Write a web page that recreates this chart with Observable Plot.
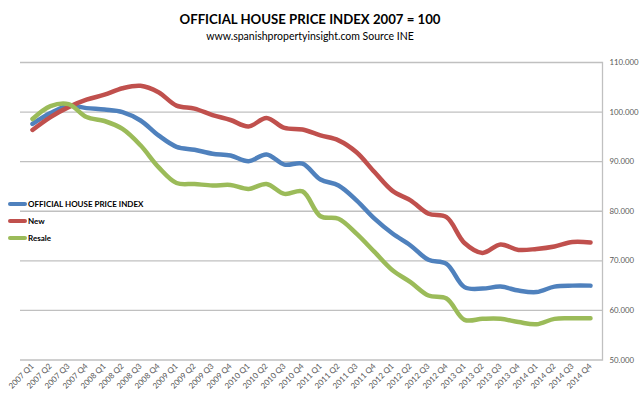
<!DOCTYPE html>
<html>
<head>
<meta charset="utf-8">
<script src="https://cdn.jsdelivr.net/npm/d3@7"></script>
<script src="https://cdn.jsdelivr.net/npm/@observablehq/plot@0.6"></script>
<style>
  html, body { margin: 0; padding: 0; background: #fff; }
  #wrap { position: relative; width: 640px; height: 397px; font-family: Lato, "Open Sans", sans-serif; }
  #title { position: absolute; left: 0; top: 10px; width: 620px; text-align: center; font-weight: bold; font-size: 13.2px; color: #000; line-height: 18px; }
  #subtitle { position: absolute; left: 0; top: 29px; width: 620px; text-align: center; font-size: 10.5px; color: #000; line-height: 14px; }
  #chart { position: absolute; left: 0; top: 48px; }
  #legend { position: absolute; left: 8px; top: 195px; font-size: 8px; font-weight: bold; color: #000; }
  .row { display: flex; align-items: center; height: 17.3px; }
  .sw { width: 19px; height: 4px; border-radius: 2px; margin-right: 1px; }
</style>
</head>
<body>
<div id="wrap">
  <div id="title">OFFICIAL HOUSE PRICE INDEX 2007 = 100</div>
  <div id="subtitle">www.spanishpropertyinsight.com Source INE</div>
  <div id="chart"></div>
  <div id="legend"></div>
</div>
<script>
const quarters = [
  "2007 Q1","2007 Q2","2007 Q3","2007 Q4",
  "2008 Q1","2008 Q2","2008 Q3","2008 Q4",
  "2009 Q1","2009 Q2","2009 Q3","2009 Q4",
  "2010 Q1","2010 Q2","2010 Q3","2010 Q4",
  "2011 Q1","2011 Q2","2011 Q3","2011 Q4",
  "2012 Q1","2012 Q2","2012 Q3","2012 Q4",
  "2013 Q1","2013 Q2","2013 Q3","2013 Q4",
  "2014 Q1","2014 Q2","2014 Q3","2014 Q4"
];
const seriesNames = ["OFFICIAL HOUSE PRICE INDEX", "New", "Resale"];
const seriesColors = ["#4F81BD", "#C0504D", "#9BBB59"];
const official = [97.6, 99.8, 101.3, 100.8, 100.5, 100.0, 98.3, 95.3,
                  93.0, 92.4, 91.6, 91.25, 90.1, 91.45, 89.4, 89.6,
                  86.4, 85.2, 82.2, 78.5, 75.5, 73.1, 70.2, 69.4,
                  64.7, 64.4, 64.8, 64.0, 63.7, 64.8, 65.0, 65.0];
const newHomes = [96.4, 99.0, 101.0, 102.5, 103.5, 104.8, 105.3, 104.0,
                  101.3, 100.7, 99.4, 98.4, 97.1, 98.8, 96.8, 96.5,
                  95.3, 94.3, 91.9, 87.9, 84.1, 82.2, 79.5, 78.8,
                  73.6, 71.6, 73.3, 72.2, 72.4, 72.9, 73.8, 73.7];
const resale = [98.6, 101.2, 101.6, 99.0, 98.2, 96.6, 93.3, 88.9,
                85.7, 85.5, 85.2, 85.3, 84.5, 85.5, 83.5, 84.0,
                79.0, 78.5, 75.5, 71.8, 68.1, 65.7, 63.0, 62.4,
                58.1, 58.3, 58.3, 57.65, 57.2, 58.3, 58.4, 58.4];
const yTicks = [50, 60, 70, 80, 90, 100, 110];

const seriesValues = [official, newHomes, resale];
const data = seriesNames.flatMap((s, k) => quarters.map((q, i) => ({q, v: seriesValues[k][i], s})));

const chart = Plot.plot({
  width: 640,
  height: 349,
  marginTop: 14,
  marginBottom: 37.5,
  marginLeft: 20,
  marginRight: 38,
  style: {fontFamily: "Lato, 'Open Sans', sans-serif", background: "#fff"},
  x: {type: "point", domain: quarters, padding: 0.5, label: null},
  y: {domain: [50, 110], label: null},
  color: {domain: seriesNames, range: seriesColors},
  marks: [
    Plot.ruleY(yTicks, {stroke: "#c0c0c0", strokeWidth: 1.3}),
    Plot.frame({anchor: "right", stroke: "#c0c0c0", strokeWidth: 1.3}),
    Plot.axisY(yTicks, {anchor: "right", tickSize: 0, tickPadding: 7, tickFormat: d => d.toFixed(3), fontSize: 7.8, fill: "#595959", label: null}),
    Plot.axisX({tickRotate: -45, tickSize: 0, tickPadding: 5, fontSize: 8, fill: "#595959", label: null}),
    Plot.line(data, {x: "q", y: "v", z: "s", stroke: "s", curve: "catmull-rom", strokeWidth: 4.5, strokeLinecap: "round", strokeLinejoin: "round"})
  ]
});
document.getElementById("chart").appendChild(chart);

const legend = document.getElementById("legend");
seriesNames.forEach((s, k) => {
  const row = document.createElement("div");
  row.className = "row";
  const sw = document.createElement("div");
  sw.className = "sw";
  sw.style.background = seriesColors[k];
  const t = document.createElement("span");
  t.textContent = s;
  row.appendChild(sw);
  row.appendChild(t);
  legend.appendChild(row);
});
</script>
</body>
</html>
